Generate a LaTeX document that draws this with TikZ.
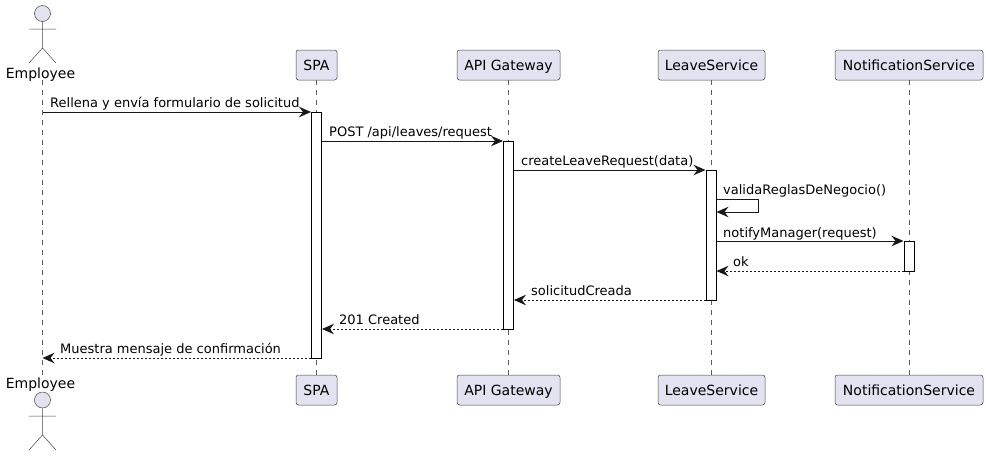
\documentclass[tikz,border=0pt]{standalone}
\usepackage{fontspec}
\setmainfont{DejaVu Sans}
\usetikzlibrary{arrows.meta}
\definecolor{partfill}{HTML}{E2E2F0}
\definecolor{trait}{HTML}{181818}
\begin{document}
\begin{tikzpicture}[x=1pt,y=-1pt]
\tikzstyle{appel}=[-{Stealth[length=12pt,width=10.5pt,inset=4pt]},draw=trait,line width=1pt]
\tikzstyle{retour}=[appel,dash pattern=on 2pt off 2pt]
\tikzstyle{vie}=[draw=trait!70,line width=0.5pt,dash pattern=on 5pt off 5pt]
\tikzset{participant/.style={draw=trait!80,line width=0.5pt,fill=partfill,rounded corners=2.5pt,minimum height=30pt,inner sep=0pt,text height=12pt,text depth=2pt,font=\fontsize{14}{16}\selectfont},
activation/.style={draw=black,line width=1pt,fill=white,minimum width=10pt,inner sep=0pt},
message/.style={anchor=base west,inner sep=0pt,font=\fontsize{13}{15}\selectfont},
tete/.style={circle,draw=trait!80,line width=0.5pt,fill=partfill,minimum size=16pt,inner sep=0pt},
nomacteur/.style={inner sep=0pt,font=\fontsize{14}{16}\selectfont}}
\useasboundingbox (0,0) rectangle (986,456);

% participants
\node[participant,minimum width=41pt] (SPA) at (316.5,65) {SPA};
\node[participant,minimum width=103pt] (API) at (508.5,65) {API Gateway};
\node[participant,minimum width=107pt] (LS) at (711.5,65) {LeaveService};
\node[participant,minimum width=148pt] (NS) at (909,65) {NotificationService};
\node[participant,minimum width=41pt] (SPAb) at (316.5,390) {SPA};
\node[participant,minimum width=103pt] (APIb) at (508.5,390) {API Gateway};
\node[participant,minimum width=107pt] (LSb) at (711.5,390) {LeaveService};
\node[participant,minimum width=148pt] (NSb) at (909,390) {NotificationService};

% acteur
\node[tete] (T) at (42.5,13.5) {};
\node[nomacteur,anchor=base] (E) at (40.5,78) {Employee};
\node[nomacteur,anchor=base] (Eb) at (40.5,388) {Employee};
\node[tete] (Tb) at (42.5,400) {};
\coordinate (EH) at (42.5,80);
\coordinate (EB) at (42.5,375);
\draw[draw=trait!80,line width=0.5pt] (T.south) -- (42.5,48) -- (29,63) (42.5,48) -- (56,63) (29,29) -- (56,29);
\draw[draw=trait!80,line width=0.5pt] (Tb.south) -- (42.5,435) -- (29,450) (42.5,435) -- (56,450) (29,416) -- (56,416);

% lignes de vie
\draw[vie] (EH) -- (EB);
\draw[vie] (SPA) -- (SPAb);
\draw[vie] (API) -- (APIb);
\draw[vie] (LS) -- (LSb);
\draw[vie] (NS) -- (NSb);

% activations
\node[activation,minimum height=246pt] (aSPA) at (316.5,235) {};
\node[activation,minimum height=188pt] (aAPI) at (508.5,235) {};
\node[activation,minimum height=130pt] (aLS) at (711,235) {};
\node[activation,minimum height=30pt] (aNS) at (909,256) {};

% messages
\coordinate (m1) at (0,112);
\coordinate (m2) at (0,141);
\coordinate (m3) at (0,170);
\coordinate (m4) at (0,199);
\coordinate (m4b) at (0,212);
\coordinate (m5) at (0,241);
\coordinate (m6) at (0,271);
\coordinate (m7) at (0,300);
\coordinate (m8) at (0,329);
\coordinate (m9) at (0,358);

\draw[appel] (EH |- m1) -- (aSPA.west |- m1);
\draw[appel] (aSPA.east |- m2) -- (aAPI.west |- m2);
\draw[appel] (aAPI.east |- m3) -- (aLS.west |- m3);
\draw[appel] (aLS.east |- m4) -- ++(42,0) |- (aLS.east |- m4b);
\draw[appel] (aLS.east |- m5) -- (aNS.west |- m5);
\draw[retour] (aNS.west |- m6) -- (aLS.east |- m6);
\draw[retour] (aLS.west |- m7) -- (aAPI.east |- m7);
\draw[retour] (aAPI.west |- m8) -- (aSPA.east |- m8);
\draw[retour] (aSPA.west |- m9) -- (EH |- m9);

\node[message] (t1) at (50,107) {Rellena y envía formulario de solicitud};
\node[message] (t2) at (329,136) {POST /api/leaves/request};
\node[message] (t3) at (521,165) {createLeaveRequest(data)};
\node[message] (t4) at (723,194) {validaReglasDeNegocio()};
\node[message] (t5) at (723,237) {notifyManager(request)};
\node[message] (t6) at (733,266) {ok};
\node[message] (t7) at (531,295) {solicitudCreada};
\node[message] (t8) at (339,324) {201 Created};
\node[message] (t9) at (60,353) {Muestra mensaje de confirmación};
\end{tikzpicture}
\end{document}
